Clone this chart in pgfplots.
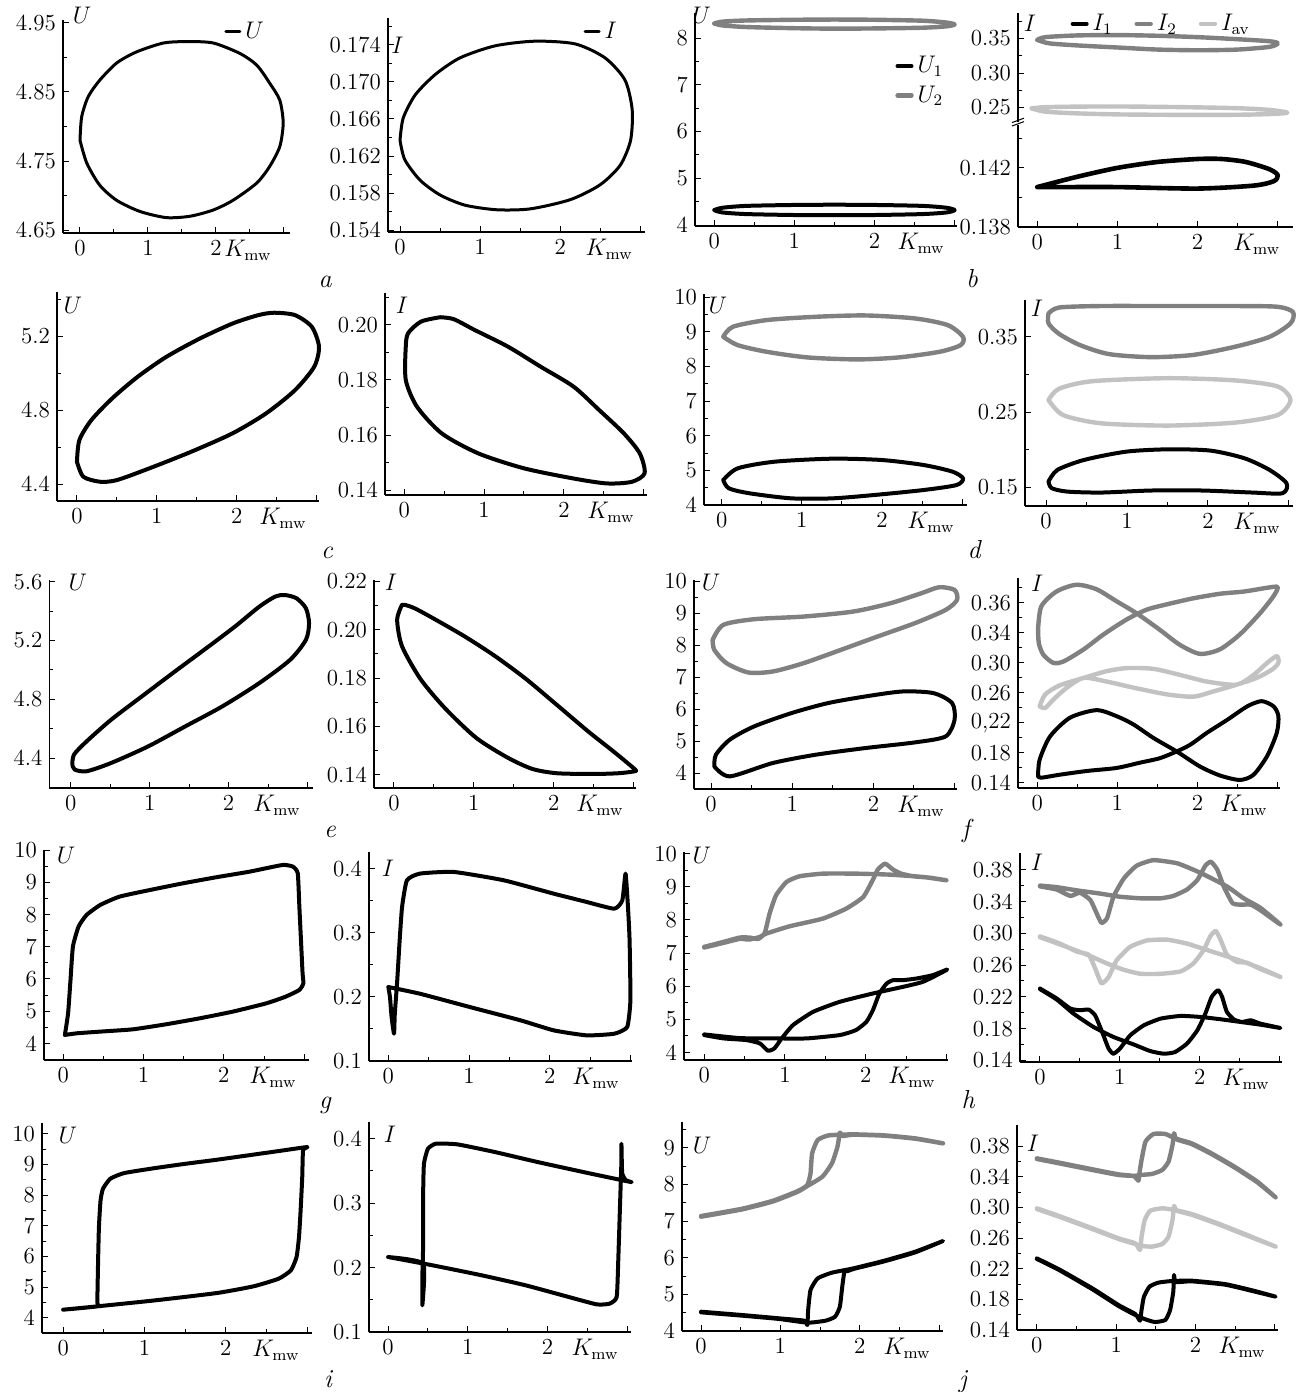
\documentclass[border=0pt]{standalone}
\usepackage{pgfplots}
\pgfplotsset{compat=1.18}
\newcommand\fs{\fontsize{11.5}{13}\selectfont}
\definecolor{dgray}{gray}{0.5}
\definecolor{lgray}{gray}{0.76}
\tikzset{
 blk/.style={black, line width=2pt, line join=round, line cap=round},
 dg/.style={dgray, line width=2.2pt, line join=round, line cap=round},
 lg/.style={lgray, line width=2.2pt, line join=round, line cap=round},
}
\pgfplotsset{
 P/.style={scale only axis, anchor=south west,
   axis x line*=bottom, axis y line*=left,
   x axis line style={-}, y axis line style={-},
   axis line style={line width=0.6pt},
   tick align=inside, major tick length=3pt, minor tick length=1.8pt,
   tick style={black, line width=0.5pt},
   xtick={0,1,2,3}, xticklabels={0,1,2,{}}, minor xtick={0.5,1.5,2.5},
   ticklabel style={font=\fs},
   clip=false,
   legend image code/.code={\draw[##1] (0pt,0pt) -- (7pt,0pt);},
   legend style={draw=none, fill=none, inner sep=0pt, font=\fs, cells={anchor=west}},
 },
 S/.style={smooth, tension=0.45},
 T/.style={smooth, tension=0.3},
}
\newcommand\Kmw[1][0.98]{\node[anchor=north east, font=\fs, inner sep=0.333em] at (rel axis cs:#1,0) {$K_{\mathrm{mw}}$};}
\newcommand\Yl[3]{\node[font=\fs] at (rel axis cs:#1,#2) {$#3$};}
\newcommand\Sub[3]{\node[font=\fontsize{13}{14}\selectfont\itshape, anchor=base] at (#1pt,#2pt) {#3};}
\begin{document}
\begin{tikzpicture}
\useasboundingbox (0,0) rectangle (648pt,-696pt);
% ---------------- a1
\begin{axis}[P, at={(31.5pt,-116.5pt)}, width=113.5pt, height=106.5pt,
 xmin=-0.25, xmax=3.09, ymin=4.6457, ymax=4.9543,
 ytick={4.65,4.75,4.85,4.95}, yticklabels={4.65,4.75,4.85,4.95}, minor ytick={4.70,4.80,4.90},
 legend style={at={(0.709,0.944)}, anchor=west}]
\addplot[blk, line width=1.5pt, S] coordinates {(0,4.780)(0.025,4.814)(0.12,4.843)(0.29,4.867)(0.54,4.892)(0.83,4.908)(1.23,4.921)(1.59,4.923)(1.96,4.921)(2.35,4.906)(2.60,4.889)(2.79,4.863)(2.94,4.838)(2.99,4.805)(2.94,4.771)(2.79,4.742)(2.60,4.718)(2.25,4.693)(1.96,4.679)(1.62,4.670)(1.27,4.668)(0.88,4.677)(0.54,4.693)(0.29,4.715)(0.10,4.747)(0,4.780)};
\addlegendentry{$U$}
\Kmw[0.95]
\Yl{0.084}{1.023}{U}
\end{axis}
% ---------------- a2
\begin{axis}[P, at={(194pt,-116pt)}, width=128.5pt, height=107pt,
 xmin=-0.15, xmax=3.06, ymin=0.1538, ymax=0.1769,
 ytick={0.154,0.158,0.162,0.166,0.170,0.174}, yticklabels={0.154,0.158,0.162,0.166,0.170,0.174},
 minor ytick={0.156,0.160,0.164,0.168,0.172,0.176},
 legend style={at={(0.76,0.935)}, anchor=west}]
\addplot[blk, line width=1.5pt, S] coordinates {(0,0.1637)(0.04,0.1661)(0.19,0.1686)(0.44,0.1708)(0.75,0.1726)(1.19,0.1739)(1.69,0.1744)(2.19,0.1741)(2.56,0.1726)(2.81,0.1702)(2.90,0.1670)(2.88,0.1637)(2.75,0.1610)(2.5,0.1589)(2.13,0.1573)(1.63,0.1563)(1.21,0.1562)(0.81,0.1567)(0.5,0.1578)(0.25,0.1594)(0.06,0.1616)(0,0.1637)};
\addlegendentry{$I$}
\Kmw
\Yl{0.037}{0.874}{I}
\end{axis}
% ---------------- b1
\begin{axis}[P, at={(347.5pt,-113pt)}, width=131pt, height=106.5pt,
 xmin=-0.24, xmax=3.03, ymin=3.98, ymax=8.535,
 ytick={4,5,6,7,8}, yticklabels={4,5,6,7,8}, minor ytick={4.5,5.5,6.5,7.5},
 legend style={at={(0.763,0.817)}, anchor=north west, row sep=1pt}]
\addplot[blk, S] coordinates {(0,4.32)(0.1,4.37)(0.4,4.41)(1,4.43)(1.5,4.435)(2,4.43)(2.6,4.41)(2.9,4.37)(3.0,4.32)(2.9,4.27)(2.6,4.235)(2,4.215)(1.5,4.21)(1,4.215)(0.4,4.235)(0.1,4.27)(0,4.32)};
\addlegendentry{$U_1$}
\addplot[dg, S] coordinates {(0,8.31)(0.1,8.35)(0.4,8.375)(1,8.39)(1.5,8.395)(2,8.39)(2.6,8.37)(2.9,8.33)(3.0,8.29)(2.9,8.25)(2.6,8.22)(2,8.205)(1.5,8.2)(1,8.21)(0.4,8.235)(0.1,8.27)(0,8.31)};
\addlegendentry{$U_2$}
\Kmw
\Yl{0.025}{0.99}{U}
\end{axis}
% ---------------- b2 upper
\begin{axis}[P, at={(509pt,-61pt)}, width=137.5pt, height=54.5pt,
 xmin=-0.24, xmax=3.19, ymin=0.229, ymax=0.387, hide x axis,
 ytick={0.25,0.30,0.35}, yticklabels={0.25,0.30,0.35}, minor ytick={0.275,0.325,0.375},
 legend columns=3, legend style={at={(0.19,0.9)}, anchor=west, /tikz/every even column/.append style={column sep=9pt}}]
\addlegendimage{blk}
\addlegendentry{$I_1$}
\addplot[dg, S] coordinates {(0,0.348)(0.1,0.352)(0.5,0.3545)(1,0.355)(1.5,0.354)(2,0.352)(2.5,0.349)(2.9,0.346)(3.0,0.343)(2.9,0.338)(2.5,0.334)(2,0.333)(1.5,0.334)(1,0.337)(0.5,0.340)(0.15,0.343)(0,0.348)};
\addlegendentry{$I_2$}
\addplot[lg, S] coordinates {(-0.07,0.2488)(0.1,0.2505)(0.5,0.2513)(1,0.2515)(1.5,0.251)(2,0.2502)(2.5,0.249)(2.9,0.2465)(3.12,0.2425)(2.9,0.2405)(2.5,0.2395)(2,0.2393)(1.5,0.2395)(1,0.24)(0.5,0.2415)(0.1,0.244)(-0.07,0.2488)};
\addlegendentry{$I_{\mathrm{av}}$}
\Yl{0.044}{0.908}{I}
\end{axis}
% ---------------- b2 lower
\begin{axis}[P, at={(509pt,-113.5pt)}, width=137.5pt, height=51pt,
 xmin=-0.24, xmax=3.19, ymin=0.138, ymax=0.1449,
 ytick={0.138,0.142}, yticklabels={0.138,0.142}, minor ytick={0.140,0.144}]
\addplot[blk, line width=2.3pt, S] coordinates {(0,0.1407)(0.5,0.1414)(1,0.1420)(1.5,0.1424)(2,0.1426)(2.3,0.1426)(2.6,0.1424)(2.9,0.1419)(3.0,0.1415)(2.95,0.1411)(2.7,0.1408)(2.0,0.1406)(1.0,0.1407)(0.3,0.1407)(0,0.1407)};
\draw[line width=0.5pt] (rel axis cs:0,1) ++(-3pt,-0.5pt) -- ++(6pt,2.2pt);
\draw[line width=0.5pt] (rel axis cs:0,1) ++(-3pt,1.2pt) -- ++(6pt,2.2pt);
\Kmw
\end{axis}
% ---------------- c1
\begin{axis}[P, at={(28.5pt,-250.5pt)}, width=131pt, height=104.5pt,
 xmin=-0.25, xmax=3.03, ymin=4.309, ymax=5.438,
 ytick={4.4,4.8,5.2}, yticklabels={4.4,4.8,5.2}, minor ytick={4.6,5.0,5.4}]
\addplot[blk, S] coordinates {(0,4.521)(0.03,4.638)(0.18,4.746)(0.44,4.863)(0.76,4.98)(1.12,5.088)(1.54,5.187)(1.95,5.268)(2.27,5.313)(2.47,5.326)(2.73,5.313)(2.94,5.25)(3.03,5.142)(2.97,5.034)(2.73,4.908)(2.37,4.783)(1.95,4.675)(1.43,4.575)(0.91,4.486)(0.50,4.422)(0.29,4.413)(0.08,4.44)(0,4.521)};
\Kmw
\Yl{0.061}{0.938}{U}
\end{axis}
% ---------------- c2
\begin{axis}[P, at={(192.5pt,-247.5pt)}, width=131pt, height=101pt,
 xmin=-0.24, xmax=3.04, ymin=0.1382, ymax=0.2116,
 ytick={0.14,0.16,0.18,0.20}, yticklabels={0.14,0.16,0.18,0.20}, minor ytick={0.15,0.17,0.19,0.21}]
\addplot[blk, S] coordinates {(0.45,0.2028)(0.21,0.2012)(0.05,0.197)(0.02,0.1921)(0.02,0.18)(0.16,0.1703)(0.47,0.1606)(0.93,0.1533)(1.50,0.1479)(2.12,0.1442)(2.54,0.1424)(2.85,0.143)(3.01,0.1461)(2.95,0.1533)(2.75,0.1606)(2.44,0.1691)(2.12,0.1776)(1.71,0.1848)(1.30,0.1921)(0.88,0.1982)(0.62,0.2021)(0.45,0.2028)};
\Kmw
\Yl{0.065}{0.94}{I}
\end{axis}
% ---------------- d1
\begin{axis}[P, at={(352pt,-252.5pt)}, width=131.5pt, height=105.5pt,
 xmin=-0.22, xmax=3.06, ymin=4, ymax=10.09,
 ytick={4,5,6,7,8,9,10}, yticklabels={4,5,6,7,8,9,10}, minor ytick={4.5,5.5,6.5,7.5,8.5,9.5}]
\addplot[dg, S] coordinates {(0.02,8.856)(0.14,9.144)(0.56,9.337)(1.18,9.433)(1.79,9.471)(2.41,9.385)(2.82,9.192)(3.01,8.856)(2.98,8.615)(2.72,8.423)(2.21,8.26)(1.69,8.202)(1.07,8.26)(0.56,8.423)(0.20,8.615)(0.02,8.856)};
\addplot[blk, S] coordinates {(0.02,4.721)(0.2,5.058)(0.66,5.25)(1.38,5.337)(2.0,5.298)(2.52,5.154)(2.88,4.962)(3.01,4.769)(2.93,4.577)(2.52,4.433)(1.90,4.288)(1.38,4.192)(0.87,4.192)(0.35,4.337)(0.09,4.481)(0.02,4.721)};
\Kmw
\Yl{0.053}{0.948}{U}
\end{axis}
% ---------------- d2
\begin{axis}[P, at={(512.5pt,-253pt)}, width=134pt, height=103pt,
 xmin=-0.26, xmax=3.05, ymin=0.125, ymax=0.399,
 ytick={0.15,0.25,0.35}, yticklabels={0.15,0.25,0.35}, minor ytick={0.20,0.30}]
\addplot[dg, S] coordinates {(0.03,0.381)(0.16,0.389)(0.68,0.391)(1.51,0.391)(2.34,0.391)(2.86,0.390)(3.05,0.383)(3.02,0.368)(2.76,0.35)(2.34,0.337)(1.82,0.326)(1.30,0.323)(0.78,0.327)(0.42,0.339)(0.16,0.354)(0.03,0.368)(0.03,0.381)};
\addplot[lg, S] coordinates {(0.03,0.266)(0.16,0.281)(0.57,0.291)(1.51,0.295)(2.34,0.292)(2.86,0.284)(3.02,0.266)(2.86,0.246)(2.34,0.236)(1.51,0.232)(0.68,0.235)(0.21,0.246)(0.03,0.266)};
\addplot[blk, S] coordinates {(0.03,0.1575)(0.14,0.173)(0.47,0.1863)(0.99,0.1973)(1.51,0.2004)(2.03,0.1987)(2.45,0.1885)(2.76,0.173)(2.97,0.1553)(2.92,0.142)(2.55,0.1429)(1.93,0.1456)(1.30,0.1456)(0.68,0.1429)(0.26,0.1442)(0.07,0.1487)(0.03,0.1575)};
\Kmw
\Yl{0.045}{0.961}{I}
\end{axis}
% ---------------- e1
\begin{axis}[P, at={(24.75pt,-394pt)}, width=131.75pt, height=104pt,
 xmin=-0.27, xmax=3.07, ymin=4.196, ymax=5.611,
 ytick={4.4,4.8,5.2,5.6}, yticklabels={4.4,4.8,5.2,5.6}, minor ytick={4.6,5.0,5.4}]
\addplot[blk, S] coordinates {(0.02,4.355)(0.04,4.423)(0.20,4.513)(0.51,4.66)(0.90,4.819)(1.29,4.977)(1.69,5.136)(2.08,5.294)(2.39,5.43)(2.59,5.498)(2.71,5.509)(2.86,5.487)(2.98,5.419)(3.02,5.317)(2.98,5.204)(2.78,5.068)(2.39,4.91)(1.92,4.751)(1.45,4.615)(0.98,4.479)(0.51,4.366)(0.20,4.31)(0.05,4.321)(0.02,4.355)};
\Kmw
\Yl{0.108}{0.99}{U}
\end{axis}
% ---------------- e2
\begin{axis}[P, at={(187pt,-394pt)}, width=131pt, height=104pt,
 xmin=-0.25, xmax=3.03, ymin=0.1346, ymax=0.2205,
 ytick={0.14,0.16,0.18,0.20,0.22}, yticklabels={0.14,0.16,0.18,0.20,0.22}, minor ytick={0.15,0.17,0.19,0.21}]
\addplot[blk, S] coordinates {(0.10,0.2102)(0.04,0.2041)(0.10,0.1932)(0.33,0.1797)(0.64,0.1675)(1.03,0.1553)(1.42,0.1472)(1.73,0.1425)(2.04,0.1407)(2.50,0.1404)(2.81,0.1407)(3.01,0.1415)(3.01,0.1425)(2.74,0.1499)(2.43,0.158)(2.04,0.1689)(1.65,0.1797)(1.26,0.1892)(0.88,0.1973)(0.49,0.2047)(0.26,0.2088)(0.14,0.2102)(0.10,0.2102)};
\Kmw
\Yl{0.065}{0.99}{I}
\end{axis}
% ---------------- f1
\begin{axis}[P, at={(347pt,-394.5pt)}, width=131.5pt, height=104.5pt,
 xmin=-0.21, xmax=3.03, ymin=3.5, ymax=10.04,
 ytick={4,5,6,7,8,9,10}, yticklabels={4,5,6,7,8,9,10}, minor ytick={4.5,5.5,6.5,7.5,8.5,9.5}]
\addplot[dg, S] coordinates {(0.02,8.167)(0.15,8.635)(0.53,8.813)(1.14,8.896)(1.75,9.052)(2.21,9.313)(2.59,9.625)(2.81,9.813)(3.00,9.729)(3.03,9.417)(2.89,9.104)(2.51,8.688)(2.05,8.271)(1.60,7.854)(1.14,7.438)(0.76,7.177)(0.46,7.146)(0.19,7.438)(0.04,7.854)(0.02,8.167)};
\addplot[blk, S] coordinates {(0.04,4.208)(0.23,3.896)(0.76,4.313)(1.29,4.573)(1.90,4.781)(2.51,4.958)(2.89,5.146)(3.00,5.667)(2.97,6.188)(2.74,6.5)(2.36,6.552)(1.90,6.396)(1.44,6.188)(0.99,5.875)(0.53,5.458)(0.23,5.042)(0.06,4.573)(0.04,4.208)};
\Kmw
\Yl{0.065}{0.99}{U}
\end{axis}
% ---------------- f2
\begin{axis}[P, at={(509pt,-394pt)}, width=131pt, height=105pt,
 xmin=-0.24, xmax=3.03, ymin=0.1333, ymax=0.413,
 ytick={0.14,0.18,0.22,0.26,0.30,0.34,0.38}, yticklabels={0.14,0.18,{0,22},0.26,0.30,0.34,0.36},
 minor ytick={0.16,0.20,0.24,0.28,0.32,0.36,0.40}]
\addplot[dg, S] coordinates {(0.01,0.344)(0.05,0.375)(0.24,0.395)(0.49,0.404)(0.74,0.398)(0.99,0.382)(1.24,0.366)(1.53,0.344)(1.78,0.324)(2.03,0.312)(2.28,0.318)(2.53,0.338)(2.78,0.366)(2.95,0.389)(3.0,0.401)(2.87,0.4)(2.58,0.395)(2.28,0.392)(1.95,0.386)(1.62,0.378)(1.37,0.371)(1.12,0.358)(0.83,0.338)(0.58,0.318)(0.33,0.302)(0.2,0.3)(0.075,0.311)(0.02,0.326)(0.01,0.344)};
\addplot[lg, S] coordinates {(0.03,0.242)(0.1,0.258)(0.28,0.27)(0.58,0.28)(0.87,0.289)(1.12,0.293)(1.45,0.292)(1.78,0.284)(2.12,0.275)(2.49,0.271)(2.7,0.284)(2.87,0.3)(2.99,0.309)(3.01,0.3)(2.93,0.291)(2.74,0.28)(2.49,0.271)(2.2,0.262)(1.95,0.255)(1.62,0.258)(1.2,0.267)(0.87,0.275)(0.58,0.28)(0.37,0.267)(0.2,0.251)(0.1,0.24)(0.03,0.242)};
\addplot[blk, S] coordinates {(0.01,0.149)(0.03,0.171)(0.16,0.202)(0.41,0.227)(0.74,0.237)(0.99,0.229)(1.2,0.218)(1.45,0.2)(1.74,0.182)(2.03,0.162)(2.28,0.15)(2.53,0.144)(2.7,0.151)(2.87,0.176)(2.99,0.207)(3.01,0.229)(2.95,0.242)(2.8,0.249)(2.62,0.242)(2.37,0.224)(2.12,0.207)(1.91,0.191)(1.74,0.182)(1.53,0.173)(1.28,0.167)(0.99,0.16)(0.62,0.156)(0.28,0.151)(0.05,0.147)(0.01,0.149)};
\Kmw
\Yl{0.073}{0.976}{I}
\end{axis}
% ---------------- g1
\begin{axis}[P, at={(22pt,-530pt)}, width=132.5pt, height=105pt,
 xmin=-0.24, xmax=3.06, ymin=3.48, ymax=10.01,
 ytick={4,5,6,7,8,9,10}, yticklabels={4,5,6,7,8,9,10}, minor ytick={4.5,5.5,6.5,7.5,8.5,9.5}]
\addplot[blk, T] coordinates {(0.02,4.259)(0.06,4.933)(0.09,5.969)(0.12,7.005)(0.19,7.627)(0.29,7.99)(0.46,8.301)(0.70,8.56)(1.08,8.767)(1.49,8.974)(1.90,9.161)(2.32,9.337)(2.73,9.544)(2.86,9.492)(2.92,9.285)(2.94,8.249)(2.96,7.212)(2.98,6.176)(2.99,5.865)(2.94,5.658)(2.77,5.451)(2.53,5.244)(2.11,4.984)(1.70,4.777)(1.28,4.591)(0.87,4.435)(0.46,4.363)(0.17,4.311)(0.02,4.259)};
\Kmw
\Yl{0.083}{0.976}{U}
\end{axis}
% ---------------- g2
\begin{axis}[P, at={(184.5pt,-530.5pt)}, width=131.5pt, height=104.5pt,
 xmin=-0.24, xmax=3.02, ymin=0.1, ymax=0.426,
 ytick={0.1,0.2,0.3,0.4}, yticklabels={0.1,0.2,0.3,0.4}, minor ytick={0.15,0.25,0.35}]
\addplot[blk, T] coordinates {(0,0.2154)(0.39,0.205)(1.01,0.1842)(1.64,0.1634)(2.05,0.1478)(2.46,0.14)(2.8,0.1426)(2.96,0.153)(3.0,0.1946)(2.99,0.2882)(2.97,0.3403)(2.94,0.3923)(2.90,0.3506)(2.80,0.3376)(2.46,0.348)(2.05,0.361)(1.43,0.3819)(0.81,0.3949)(0.39,0.3923)(0.23,0.3818)(0.17,0.3403)(0.14,0.2882)(0.11,0.2258)(0.08,0.1738)(0.07,0.1426)(0.04,0.1686)(0.02,0.1998)(0,0.2154)};
\Kmw
\Yl{0.072}{0.923}{I}
\end{axis}
% ---------------- h1
\begin{axis}[P, at={(342pt,-530pt)}, width=132pt, height=104pt,
 xmin=-0.25, xmax=3.02, ymin=3.77, ymax=10.05,
 ytick={4,5,6,7,8,9,10}, yticklabels={4,5,6,7,8,9,10}, minor ytick={4.5,5.5,6.5,7.5,8.5,9.5}]
\addplot[dg, T] coordinates {(0,7.186)(0.24,7.337)(0.44,7.467)(0.56,7.467)(0.67,7.427)(0.75,7.608)(0.81,8.191)(0.89,8.744)(1.02,9.146)(1.18,9.317)(1.47,9.397)(1.88,9.397)(2.30,9.367)(2.71,9.296)(3.0,9.196)(2.79,9.276)(2.59,9.317)(2.44,9.397)(2.34,9.518)(2.24,9.698)(2.15,9.518)(2.09,9.216)(1.97,8.693)(1.76,8.342)(1.47,8.04)(1.06,7.809)(0.77,7.588)(0.69,7.487)(0.56,7.407)(0.44,7.427)(0.24,7.307)(0,7.166)};
\addplot[blk, T] coordinates {(0,4.523)(0.24,4.422)(0.52,4.372)(0.69,4.271)(0.79,4.05)(0.87,4.121)(0.96,4.422)(1.10,4.824)(1.35,5.226)(1.68,5.528)(2.09,5.779)(2.50,6.0)(2.71,6.131)(2.92,6.382)(3.01,6.503)(2.83,6.332)(2.63,6.231)(2.46,6.181)(2.34,6.181)(2.26,6.080)(2.17,5.779)(2.09,5.276)(2.01,4.925)(1.88,4.673)(1.68,4.523)(1.27,4.422)(0.85,4.422)(0.44,4.432)(0,4.543)};
\Kmw
\Yl{0.068}{0.986}{U}
\end{axis}
% ---------------- h2
\begin{axis}[P, at={(510pt,-531pt)}, width=131pt, height=104.5pt,
 xmin=-0.25, xmax=3.03, ymin=0.138, ymax=0.401,
 ytick={0.14,0.18,0.22,0.26,0.30,0.34,0.38}, yticklabels={0.14,0.18,0.22,0.26,0.30,0.34,0.38},
 minor ytick={0.16,0.20,0.24,0.28,0.32,0.36}]
\addplot[dg, T] coordinates {(0,0.359)(0.21,0.355)(0.38,0.347)(0.5,0.351)(0.63,0.342)(0.71,0.325)(0.77,0.313)(0.84,0.319)(0.92,0.346)(1.05,0.369)(1.21,0.385)(1.42,0.392)(1.72,0.388)(2.01,0.376)(2.34,0.359)(2.55,0.344)(2.76,0.332)(3.01,0.311)(2.76,0.329)(2.64,0.336)(2.51,0.336)(2.41,0.338)(2.30,0.359)(2.22,0.38)(2.14,0.39)(2.07,0.385)(1.97,0.367)(1.84,0.355)(1.67,0.347)(1.51,0.344)(1.26,0.344)(1.0,0.346)(0.75,0.35)(0.46,0.354)(0.21,0.358)(0,0.36)};
\addplot[lg, T] coordinates {(0,0.296)(0.25,0.287)(0.46,0.277)(0.61,0.273)(0.69,0.256)(0.77,0.237)(0.86,0.245)(0.96,0.266)(1.13,0.283)(1.34,0.291)(1.59,0.292)(1.84,0.287)(2.09,0.279)(2.34,0.271)(2.55,0.264)(2.76,0.256)(3.01,0.245)(2.76,0.255)(2.59,0.263)(2.47,0.264)(2.34,0.273)(2.26,0.292)(2.2,0.303)(2.13,0.296)(2.05,0.279)(1.92,0.262)(1.76,0.252)(1.51,0.249)(1.26,0.249)(1.05,0.254)(0.84,0.262)(0.59,0.273)(0.25,0.286)(0,0.295)};
\addplot[blk, T] coordinates {(0,0.2305)(0.21,0.2179)(0.38,0.2053)(0.5,0.2032)(0.61,0.204)(0.69,0.1968)(0.77,0.1779)(0.86,0.1547)(0.92,0.1484)(1.0,0.1547)(1.13,0.1716)(1.3,0.1842)(1.51,0.1926)(1.76,0.196)(2.01,0.1947)(2.26,0.1918)(2.51,0.1884)(2.76,0.185)(3.01,0.1808)(2.76,0.1863)(2.64,0.1905)(2.53,0.1884)(2.43,0.1914)(2.34,0.2010)(2.28,0.22)(2.23,0.2284)(2.15,0.22)(2.07,0.1989)(1.97,0.1779)(1.84,0.1611)(1.69,0.1505)(1.55,0.1484)(1.38,0.1518)(1.17,0.1602)(0.92,0.1695)(0.67,0.1821)(0.42,0.1989)(0.21,0.2166)(0,0.2297)};
\Kmw
\Yl{0.065}{0.957}{I}
\end{axis}
% ---------------- i1
\begin{axis}[P, at={(21pt,-666.5pt)}, width=135pt, height=105pt,
 xmin=-0.26, xmax=3.06, ymin=3.5, ymax=10.35,
 ytick={4,5,6,7,8,9,10}, yticklabels={4,5,6,7,8,9,10}, minor ytick={4.5,5.5,6.5,7.5,8.5,9.5}]
\addplot[blk, T] coordinates {(0,4.261)(0.42,4.37)(1.13,4.565)(1.89,4.804)(2.34,5.022)(2.65,5.272)(2.8,5.543)(2.87,5.978)(2.9,6.63)(2.92,7.5)(2.94,8.587)(2.95,9.457)(3.0,9.565)(2.65,9.435)(2.27,9.293)(1.89,9.152)(1.51,9.022)(1.13,8.88)(0.75,8.717)(0.58,8.533)(0.49,8.207)(0.46,7.826)(0.44,6.957)(0.43,5.87)(0.42,4.511)(0.42,4.37)(0,4.261)};
\Kmw
\Yl{0.096}{0.943}{U}
\end{axis}
% ---------------- i2
\begin{axis}[P, at={(184.5pt,-666pt)}, width=131pt, height=105pt,
 xmin=-0.24, xmax=3.05, ymin=0.1, ymax=0.426,
 ytick={0.1,0.2,0.3,0.4}, yticklabels={0.1,0.2,0.3,0.4}, minor ytick={0.15,0.25,0.35}]
\addplot[blk, T] coordinates {(0,0.2164)(0.56,0.2035)(1.18,0.1879)(1.73,0.1724)(2.27,0.1543)(2.62,0.1429)(2.78,0.144)(2.87,0.1543)(2.89,0.2112)(2.91,0.2888)(2.93,0.3664)(2.93,0.3923)(2.94,0.3457)(2.99,0.3354)(3.05,0.3328)(2.51,0.3468)(1.88,0.3638)(1.34,0.3794)(0.87,0.3913)(0.6,0.3923)(0.5,0.3845)(0.45,0.3612)(0.44,0.3147)(0.44,0.2371)(0.43,0.1854)(0.43,0.1414)(0.44,0.2061)(0,0.2164)};
\Kmw
\Yl{0.08}{0.943}{I}
\end{axis}
% ---------------- j1
\begin{axis}[P, at={(341pt,-665.5pt)}, width=130.5pt, height=104.5pt,
 xmin=-0.24, xmax=3.05, ymin=4, ymax=9.7,
 ytick={4,5,6,7,8,9}, yticklabels={4,5,6,7,8,9}, minor ytick={4.5,5.5,6.5,7.5,8.5,9.5}]
\addplot[dg, T] coordinates {(0,7.136)(0.52,7.336)(0.91,7.555)(1.22,7.818)(1.34,7.982)(1.38,8.3)(1.40,8.845)(1.47,9.209)(1.61,9.336)(1.92,9.364)(2.31,9.336)(2.70,9.255)(3.05,9.118)(2.70,9.245)(2.31,9.327)(1.92,9.355)(1.78,9.318)(1.75,9.409)(1.72,9.027)(1.65,8.573)(1.53,8.209)(1.34,7.955)(1.22,7.8)(0.91,7.536)(0.52,7.318)(0,7.118)};
\addplot[blk, T] coordinates {(0,4.527)(0.52,4.436)(0.99,4.345)(1.3,4.282)(1.34,4.164)(1.35,4.573)(1.38,5.118)(1.47,5.436)(1.65,5.591)(1.92,5.709)(2.31,5.918)(2.7,6.164)(3.05,6.455)(2.7,6.145)(2.31,5.9)(1.92,5.691)(1.84,5.627)(1.81,5.664)(1.78,5.209)(1.75,4.664)(1.69,4.391)(1.57,4.282)(1.34,4.227)(0.99,4.327)(0.52,4.418)(0,4.509)};
\Kmw
\Yl{0.077}{0.89}{U}
\end{axis}
% ---------------- j2
\begin{axis}[P, at={(508.5pt,-665pt)}, width=130.5pt, height=102.5pt,
 xmin=-0.25, xmax=3.04, ymin=0.14, ymax=0.4075,
 ytick={0.14,0.18,0.22,0.26,0.30,0.34,0.38}, yticklabels={0.14,0.18,0.22,0.26,0.30,0.34,0.38},
 minor ytick={0.16,0.20,0.24,0.28,0.32,0.36}]
\addplot[dg, T] coordinates {(0,0.364)(0.28,0.3584)(0.7,0.3497)(1.03,0.3431)(1.22,0.341)(1.28,0.3349)(1.29,0.3423)(1.32,0.3619)(1.37,0.3858)(1.47,0.3958)(1.62,0.3958)(1.74,0.3901)(1.95,0.3836)(2.2,0.3706)(2.49,0.3532)(2.78,0.3336)(3.01,0.3131)(2.78,0.3327)(2.49,0.3523)(2.2,0.3697)(1.95,0.3827)(1.76,0.3888)(1.73,0.3967)(1.71,0.3814)(1.66,0.3597)(1.58,0.3488)(1.45,0.3436)(1.3,0.3423)(1.23,0.3411)(1.03,0.3423)(0.7,0.3488)(0.28,0.3575)(0,0.3632)};
\addplot[lg, T] coordinates {(0,0.2988)(0.28,0.2888)(0.7,0.2727)(1.03,0.2596)(1.24,0.2531)(1.3,0.2444)(1.32,0.2618)(1.36,0.2836)(1.43,0.2957)(1.58,0.2988)(1.74,0.2966)(1.95,0.2914)(2.28,0.2792)(2.62,0.2653)(3.01,0.2488)(2.62,0.2644)(2.28,0.2783)(1.95,0.2905)(1.76,0.2957)(1.73,0.3018)(1.71,0.2836)(1.66,0.2618)(1.58,0.2522)(1.45,0.2488)(1.33,0.2496)(1.24,0.2522)(1.03,0.2588)(0.7,0.2718)(0.28,0.2879)(0,0.2979)};
\addplot[blk, T] coordinates {(0,0.2335)(0.28,0.2192)(0.7,0.1944)(1.03,0.1726)(1.24,0.1609)(1.3,0.1522)(1.32,0.1661)(1.35,0.1835)(1.42,0.1966)(1.53,0.2018)(1.7,0.2039)(1.95,0.2044)(2.37,0.2)(2.7,0.1922)(3.01,0.1835)(2.7,0.1913)(2.37,0.1992)(1.95,0.2035)(1.75,0.2026)(1.73,0.2118)(1.72,0.19)(1.68,0.1661)(1.62,0.1531)(1.49,0.1504)(1.37,0.1539)(1.24,0.1596)(1.03,0.1713)(0.7,0.1931)(0.28,0.2183)(0,0.2327)};
\Kmw
\Yl{0.061}{0.912}{I}
\end{axis}
% ---------------- sub-labels
\Sub{162.5}{-143.5}{a}
\Sub{486}{-143.5}{b}
\Sub{163.5}{-279}{c}
\Sub{487}{-279}{d}
\Sub{165}{-418.5}{e}
\Sub{483}{-418.5}{f}
\Sub{162.5}{-554}{g}
\Sub{484}{-554}{h}
\Sub{164}{-693.5}{i}
\Sub{481.5}{-693.5}{j}
\end{tikzpicture}
\end{document}
